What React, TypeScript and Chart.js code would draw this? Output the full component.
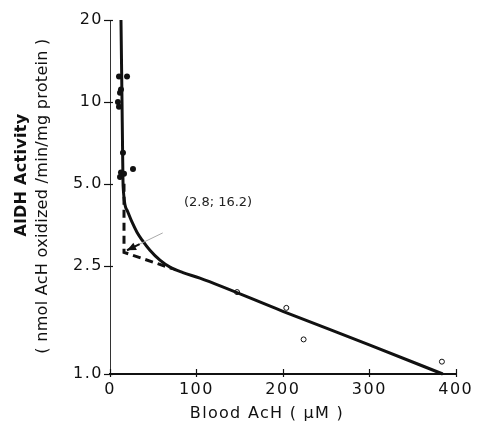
import React, { useEffect, useRef } from 'react';
import { Chart, registerables } from 'chart.js';
Chart.register(...registerables);

// ---- data ----
const xTickValues = [0, 100, 200, 300, 400];
const yTickValues = [1, 2.5, 5, 10, 20];
const yTickLabels = ['1.0', '2.5', '5.0', '10', '20'];

// filled dots (low blood AcH)
const filledX = [10.4, 19.7, 12.7, 11.6, 9.2, 10.4, 15.0, 12.7, 11.6, 16.2, 26.6];
const filledY = [12.4, 12.4, 11.1, 10.8, 10.0, 9.6, 6.5, 5.5, 5.3, 5.45, 5.67];

// open circles (high blood AcH)
const openX = [147, 204, 224, 384];
const openY = [2.0, 1.75, 1.34, 1.11];

// fitted curve
const curveX = [12.7, 13.9, 14.6, 15.2, 19.7, 25.4, 31.2, 37, 46.2, 57.8, 69.4, 84.4, 104, 200, 300, 385];
const curveY = [20, 10, 6.5, 4.9, 4.0, 3.62, 3.32, 3.11, 2.85, 2.62, 2.47, 2.36, 2.25, 1.70, 1.28, 1.0];

// dashed construction lines
const dashX = [16.2, 16.2, 72];
const dashY = [5.0, 2.8, 2.44];

// annotation
const noteText = '(2.8; 16.2)';
const noteX = 125;
const noteY = 4.28;
const arrowX = [61, 19.7];
const arrowY = [3.3, 2.85];

const xTitle = 'Blood AcH ( \u03bcM )';
const yTitle1 = 'AlDH Activity';
const yTitle2 = '( nmol AcH oxidized /min/mg protein )';

const FONT = "'DejaVu Sans', sans-serif";

export default function App() {
  const ref = useRef<HTMLCanvasElement>(null);
  useEffect(() => {
    const canvas = ref.current!;
    const pts = (xs: number[], ys: number[]) => xs.map((x, i) => ({ x, y: ys[i] }));
    const extras = {
      id: 'extras',
      beforeDraw(chart: any) {
        (chart.ctx as any).letterSpacing = '1.5px';
      },
      afterDraw(chart: any) {
        const ctx = chart.ctx as any;
        const xs = chart.scales.x;
        const ys = chart.scales.y;
        const { left, bottom } = chart.chartArea;
        ctx.save();
        ctx.letterSpacing = '0px';
        ctx.strokeStyle = '#111';
        // tick marks crossing the axes
        ctx.lineWidth = 1.2;
        xTickValues.forEach((v) => {
          const px = Math.round(xs.getPixelForValue(v)) + 0.5;
          ctx.beginPath();
          ctx.moveTo(px, bottom - 5);
          ctx.lineTo(px, bottom + 3);
          ctx.stroke();
        });
        yTickValues.forEach((v) => {
          const py = Math.round(ys.getPixelForValue(v)) + 0.5;
          ctx.beginPath();
          ctx.moveTo(left - 6, py);
          ctx.lineTo(left + 3, py);
          ctx.stroke();
        });
        // arrow
        const tx = xs.getPixelForValue(arrowX[0]);
        const ty = ys.getPixelForValue(arrowY[0]);
        const hx = xs.getPixelForValue(arrowX[1]);
        const hy = ys.getPixelForValue(arrowY[1]);
        const ang = Math.atan2(hy - ty, hx - tx);
        ctx.strokeStyle = '#aaa';
        ctx.lineWidth = 1;
        ctx.beginPath();
        ctx.moveTo(tx, ty);
        ctx.lineTo(hx, hy);
        ctx.stroke();
        ctx.strokeStyle = '#111';
        ctx.lineWidth = 2;
        ctx.beginPath();
        ctx.moveTo(hx - 14 * Math.cos(ang), hy - 14 * Math.sin(ang));
        ctx.lineTo(hx, hy);
        ctx.stroke();
        ctx.fillStyle = '#111';
        ctx.beginPath();
        ctx.moveTo(hx, hy);
        ctx.lineTo(hx - 9 * Math.cos(ang) + 4 * Math.sin(ang), hy - 9 * Math.sin(ang) - 4 * Math.cos(ang));
        ctx.lineTo(hx - 9 * Math.cos(ang) - 4 * Math.sin(ang), hy - 9 * Math.sin(ang) + 4 * Math.cos(ang));
        ctx.closePath();
        ctx.fill();
        // annotation text
        ctx.fillStyle = '#222';
        ctx.font = `13px ${FONT}`;
        ctx.textAlign = 'center';
        ctx.textBaseline = 'middle';
        ctx.fillText(noteText, xs.getPixelForValue(noteX), ys.getPixelForValue(noteY));
        // x title
        ctx.fillStyle = '#111';
        ctx.font = `16px ${FONT}`;
        ctx.letterSpacing = '1.3px';
        ctx.textBaseline = 'alphabetic';
        ctx.fillText(xTitle, 267, 418);
        // y titles
        ctx.save();
        ctx.translate(26, 175);
        ctx.rotate(-Math.PI / 2);
        ctx.letterSpacing = '0.3px';
        ctx.font = `bold 16px ${FONT}`;
        ctx.fillText(yTitle1, 0, 0);
        ctx.restore();
        ctx.save();
        ctx.translate(47, 196);
        ctx.rotate(-Math.PI / 2);
        ctx.letterSpacing = '0.3px';
        ctx.font = `16px ${FONT}`;
        ctx.fillText(yTitle2, 0, 0);
        ctx.restore();
        ctx.restore();
      },
    };
    const chart = new Chart(canvas, {
      type: 'scatter',
      data: {
        datasets: [
          {
            data: pts(curveX, curveY),
            showLine: true,
            borderColor: '#111',
            borderWidth: 3,
            pointRadius: 0,
            cubicInterpolationMode: 'monotone',
            clip: 6,
          } as any,
          {
            data: pts(dashX, dashY),
            showLine: true,
            borderColor: '#111',
            borderWidth: 3,
            borderDash: [8, 5],
            pointRadius: 0,
            tension: 0,
          },
          {
            data: pts(filledX, filledY),
            pointRadius: 3,
            backgroundColor: '#111',
            borderColor: '#111',
            borderWidth: 0,
          },
          {
            data: pts(openX, openY),
            pointRadius: 2.5,
            backgroundColor: '#fff',
            borderColor: '#111',
            borderWidth: 1,
          },
        ],
      },
      options: {
        responsive: false,
        devicePixelRatio: 1,
        animation: false,
        events: [],
        layout: { padding: { top: 20, right: 21, left: 0, bottom: 0 } },
        plugins: { legend: { display: false }, tooltip: { enabled: false } },
        scales: {
          x: {
            type: 'linear',
            min: 0,
            max: 400,
            afterBuildTicks: (s: any) => {
              s.ticks = xTickValues.map((v) => ({ value: v }));
            },
            ticks: {
              font: { family: FONT, size: 16 },
              color: '#111',
              padding: 6,
              maxRotation: 0,
              autoSkip: false,
            },
            grid: { display: false, drawTicks: false },
            border: { display: true, color: '#111', width: 2 },
            afterFit: (s: any) => {
              s.height = 63;
            },
          },
          y: {
            type: 'logarithmic',
            min: 1,
            max: 20,
            afterBuildTicks: (s: any) => {
              s.ticks = yTickValues.map((v) => ({ value: v }));
            },
            ticks: {
              font: { family: FONT, size: 16 },
              color: '#111',
              padding: 7,
              autoSkip: false,
              callback: (v: any) => {
                const i = yTickValues.indexOf(Number(v));
                return i >= 0 ? yTickLabels[i] : '';
              },
            },
            grid: { display: false, drawTicks: false },
            border: { display: true, color: '#333', width: 1 },
            afterFit: (s: any) => {
              s.width = 110;
            },
          },
        },
      } as any,
      plugins: [extras],
    });
    return () => chart.destroy();
  }, []);
  return (
    <div style={{ position: 'absolute', left: 0, top: 0, width: 477, height: 437, background: '#fff' }}>
      <canvas ref={ref} width={477} height={437} style={{ display: 'block' }} />
    </div>
  );
}
